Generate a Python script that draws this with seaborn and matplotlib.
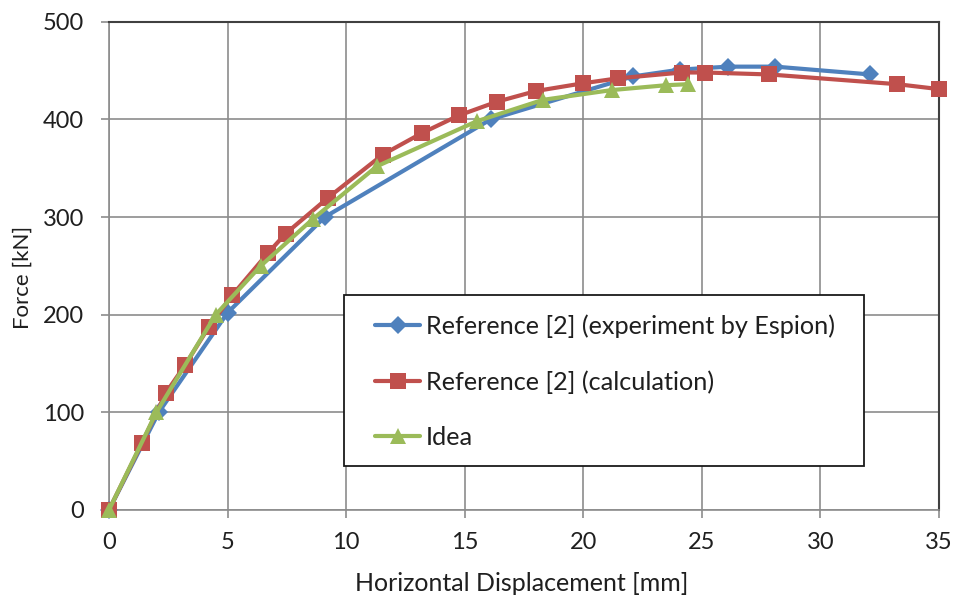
import matplotlib
matplotlib.use("Agg")
import matplotlib.pyplot as plt
from matplotlib.patches import Rectangle
from matplotlib.transforms import blended_transform_factory
import seaborn as sns
import pandas as pd

# Load-displacement curves
exp_disp = [0.0, 2.1, 5.0, 9.1, 16.1, 22.1, 24.1, 26.1, 28.1, 32.1]
exp_force = [0, 100, 202, 300, 400, 444, 451, 454, 454, 446]

calc_disp = [0.0, 1.4, 2.4, 3.2, 4.2, 5.2, 6.7, 7.45, 9.25, 11.55, 13.2, 14.75,
             16.35, 18.0, 20.0, 21.45, 24.15, 25.15, 27.85, 33.25, 35.0]
calc_force = [0, 69, 120, 148, 187, 220, 263, 283, 320, 364, 386, 404,
              418, 429, 437, 442, 448, 448, 446, 436, 431]

idea_disp = [0.0, 2.0, 4.5, 6.4, 8.6, 11.3, 15.5, 18.3, 21.2, 23.5, 24.4]
idea_force = [0, 100, 200, 250, 298, 352, 398, 420, 430, 435, 436]

series_names = ["Reference [2] (experiment by Espion)",
                "Reference [2] (calculation)",
                "Idea"]

x_ticks = [0, 5, 10, 15, 20, 25, 30, 35]
y_ticks = [0, 100, 200, 300, 400, 500]

frames = []
for name, xs, ys in zip(series_names,
                        [exp_disp, calc_disp, idea_disp],
                        [exp_force, calc_force, idea_force]):
    frames.append(pd.DataFrame({"disp": xs, "force": ys, "series": name}))
df = pd.concat(frames, ignore_index=True)

sns.set_theme(style="white")
plt.rcParams["font.family"] = ["Lato", "DejaVu Sans"]

TEXT = "#1f1f1f"
GRID = "#8c8c8c"

fig = plt.figure(figsize=(9.55, 6.0), dpi=100)
ax = fig.add_axes([0.1141, 0.15, 0.8691, 0.8138])

palette = {series_names[0]: "#4F81BD",
           series_names[1]: "#C0504D",
           series_names[2]: "#9BBB59"}
markers = {series_names[0]: "D", series_names[1]: "s", series_names[2]: "^"}
msizes = {series_names[0]: 9, series_names[1]: 11.5, series_names[2]: 12}

for name in series_names:
    sub = df[df["series"] == name]
    sns.lineplot(data=sub, x="disp", y="force", ax=ax, sort=False,
                 estimator=None, color=palette[name], marker=markers[name],
                 markersize=msizes[name], markeredgewidth=0,
                 linewidth=3.0, label=name, clip_on=False, zorder=3)

ax.set_xlim(0, 35)
ax.set_ylim(0, 500)
ax.set_xticks(x_ticks)
ax.set_yticks(y_ticks)
ax.grid(True, color=GRID, linewidth=1.2)
ax.set_axisbelow(True)

for side in ["left", "bottom"]:
    ax.spines[side].set_color(GRID)
    ax.spines[side].set_linewidth(1.2)
for side in ["top", "right"]:
    ax.spines[side].set_color("#404040")
    ax.spines[side].set_linewidth(1.5)

ax.tick_params(axis="both", which="major", direction="out", length=6,
               width=1.2, color=GRID, labelsize=17, labelcolor=TEXT,
               left=True, bottom=True)
ax.tick_params(axis="y", pad=12)
ax.tick_params(axis="x", pad=10)

ax.set_xlabel("Horizontal Displacement [mm]", fontsize=18, color=TEXT)
ax.set_ylabel("Force [kN]", fontsize=16, color=TEXT)
ax.xaxis.set_label_coords(522 / 955, 1 - 572 / 600, transform=fig.transFigure)
ax.yaxis.set_label_coords(
    33 / 955, 0.477,
    transform=blended_transform_factory(fig.transFigure, ax.transAxes))

# Legend box with a separately drawn frame
box = Rectangle((0.283, 0.090), 0.6265, 0.3503, transform=ax.transAxes,
                facecolor="white", edgecolor="#1a1a1a", linewidth=1.3, zorder=5)
ax.add_patch(box)
leg = ax.legend(loc="upper left", bbox_to_anchor=(0.3205, 0.401),
                fontsize=18.2, frameon=False, borderpad=0, borderaxespad=0,
                labelspacing=1.28, handlelength=1.8, handletextpad=0.2)
leg.set_zorder(6)
for t in leg.get_texts():
    t.set_color(TEXT)

fig.savefig("out.png", dpi=100)
